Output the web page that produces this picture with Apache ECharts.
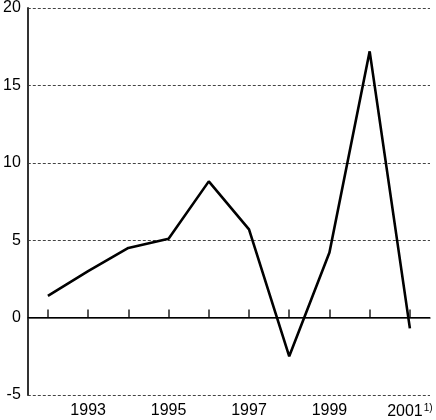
<!DOCTYPE html>
<html>
<head>
<meta charset="utf-8">
<script src="https://cdn.jsdelivr.net/npm/echarts@6/dist/echarts.min.js"></script>
<style>
html,body{margin:0;padding:0;background:#fff;}
#c{width:436px;height:420px;}
</style>
</head>
<body>
<div id="c"></div>
<script>
const years = ['1992','1993','1994','1995','1996','1997','1998','1999','2000','2001'];
const values = [1.4, 3.0, 4.5, 5.1, 8.8, 5.7, -2.5, 4.2, 17.2, -0.7];
const yTicks = [-5, 0, 5, 10, 15, 20];
const footnoteYear = '2001';
const footnoteMark = '1)';

const chart = echarts.init(document.getElementById('c'), null, {renderer: 'canvas'});
const font = '"Liberation Sans", Arial, Helvetica, sans-serif';
chart.setOption({
  animation: false,
  backgroundColor: '#fff',
  grid: {left: 25, right: 6, top: 8, bottom: 25, containLabel: false},
  xAxis: {
    type: 'category',
    data: years,
    boundaryGap: true,
    axisLine: {show: true, lineStyle: {color: '#222', width: 1.5}},
    axisTick: {show: true, inside: true, length: 8, alignWithLabel: true, interval: 0,
      lineStyle: {color: '#222', width: 1.5}},
    axisLabel: {
      interval: function (i) { return i % 2 === 1; },
      margin: 8,
      color: '#000',
      fontFamily: font,
      fontSize: 16,
      formatter: function (v) {
        return v === footnoteYear ? '{a|' + v + '}{s|' + footnoteMark + '}' : '{a|' + v + '}';
      },
      rich: {
        a: {fontFamily: font, fontSize: 16, color: '#000'},
        s: {fontFamily: font, fontSize: 10, color: '#000', verticalAlign: 'top', padding: [0, 0, 8, 1]}
      }
    },
    splitLine: {show: false}
  },
  yAxis: {
    type: 'value',
    min: yTicks[0],
    max: yTicks[yTicks.length - 1],
    interval: 5,
    axisLine: {show: true, lineStyle: {color: '#333', width: 2}},
    axisTick: {show: false},
    axisLabel: {color: '#000', fontFamily: font, fontSize: 16, margin: 7},
    splitLine: {show: true, lineStyle: {color: '#444', width: 1, type: [3, 2]}}
  },
  series: [{
    type: 'line',
    data: values,
    symbol: 'none',
    lineStyle: {color: '#000', width: 2.6},
    z: 5,
    markLine: {
      silent: true,
      symbol: 'none',
      label: {show: false},
      lineStyle: {color: '#000', width: 1.2, type: 'solid'},
      data: [{yAxis: 0}]
    }
  }]
});
</script>
</body>
</html>
